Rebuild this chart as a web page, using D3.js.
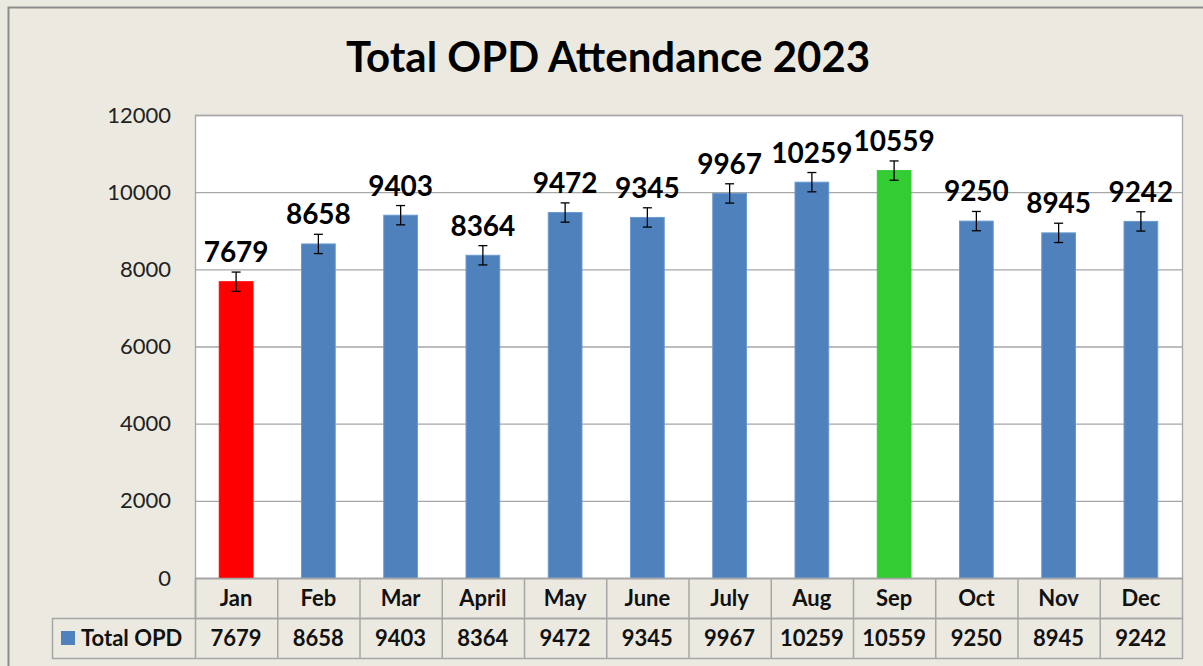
<!DOCTYPE html>
<html><head><meta charset="utf-8">
<script src="https://cdn.jsdelivr.net/npm/d3@7"></script>
<style>body{margin:0;background:#ECEAE0;}svg{display:block;}</style>
</head><body>
<svg id="c" width="1203" height="666"></svg>
<script>
const months = ["Jan","Feb","Mar","April","May","June","July","Aug","Sep","Oct","Nov","Dec"];
const values = [7679,8658,9403,8364,9472,9345,9967,10259,10559,9250,8945,9242];
const errorMargin = [250,250,250,250,250,250,250,250,250,250,250,250];
const barColors = ["#FF0000","#4F81BD","#4F81BD","#4F81BD","#4F81BD","#4F81BD","#4F81BD","#4F81BD","#33CC33","#4F81BD","#4F81BD","#4F81BD"];
const yTicks = [0,2000,4000,6000,8000,10000,12000];
const seriesName = "Total OPD";
const title = "Total OPD Attendance 2023";

const svg = d3.select("#c");
const F = "Lato, 'Open Sans', sans-serif";
const L = 195, R = 1182, T = 115, B = 578;
const grid = "#A6A6A6";

svg.append("rect").attr("x",0).attr("y",0).attr("width",1203).attr("height",666).attr("fill","#ECEAE0");
svg.append("rect").attr("x",8.5).attr("y",7.5).attr("width",1300).attr("height",800)
  .attr("fill","none").attr("stroke","#8C8C8C").attr("stroke-width",2);

svg.append("text").attr("x",608).attr("y",72).attr("text-anchor","middle")
  .attr("font-family",F).attr("font-weight","bold").attr("font-size",42).attr("fill","#000").text(title);

const x = d3.scaleBand().domain(months).range([L,R]).paddingInner(0.59).paddingOuter(0.295);
const xc = d3.scaleBand().domain(months).range([L,R]);
const y = d3.scaleLinear().domain([0,12000]).range([B,T]);

svg.append("rect").attr("x",L).attr("y",T).attr("width",R-L).attr("height",B-T).attr("fill","#fff");

svg.append("g").selectAll("line").data(yTicks).join("line")
  .attr("x1",L).attr("x2",R).attr("y1",d=>y(d)+0.5).attr("y2",d=>y(d)+0.5)
  .attr("stroke",grid).attr("stroke-width",1.3);

const yAxis = svg.append("g").attr("transform",`translate(${L},0)`)
  .call(d3.axisLeft(y).tickValues(yTicks).tickSize(0).tickPadding(24).tickFormat(d3.format("d")));
yAxis.select(".domain").remove();
yAxis.selectAll("text").attr("font-family",F).attr("font-size",22).attr("fill","#222");

svg.append("rect").attr("x",L+0.5).attr("y",T+0.5).attr("width",R-L).attr("height",B-T)
  .attr("fill","none").attr("stroke",grid).attr("stroke-width",1.3);

const idx = d3.range(months.length);
svg.append("g").selectAll("rect").data(idx).join("rect")
  .attr("x",i=>x(months[i])).attr("width",x.bandwidth())
  .attr("y",i=>y(values[i])).attr("height",i=>B-y(values[i]))
  .attr("fill",i=>barColors[i])
  .attr("stroke",i=>barColors[i]==="#4F81BD"?"#6A9AD0":barColors[i]).attr("stroke-width",1);

const eb = svg.append("g").attr("stroke","#000").attr("stroke-width",1.3);
idx.forEach(i=>{
  const cx = xc(months[i])+xc.bandwidth()/2;
  const y1 = y(values[i]+errorMargin[i]), y2 = y(values[i]-errorMargin[i]);
  eb.append("line").attr("x1",cx).attr("x2",cx).attr("y1",y1).attr("y2",y2);
  eb.append("line").attr("x1",cx-4.5).attr("x2",cx+4.5).attr("y1",y1).attr("y2",y1);
  eb.append("line").attr("x1",cx-4.5).attr("x2",cx+4.5).attr("y1",y2).attr("y2",y2);
});

svg.append("g").selectAll("text").data(idx).join("text")
  .attr("x",i=>xc(months[i])+xc.bandwidth()/2)
  .attr("y",i=>y(values[i]+errorMargin[i])-10)
  .attr("text-anchor","middle").attr("font-family",F).attr("font-weight","bold")
  .attr("font-size",28).attr("fill","#000").text(i=>values[i]);

// data table
const r1 = 578, r2 = 618, r3 = 658, tl = 52;
const tg = svg.append("g");
tg.append("rect").attr("x",L+0.5).attr("y",r1+0.5).attr("width",R-L).attr("height",r2-r1)
  .attr("fill","none").attr("stroke",grid).attr("stroke-width",1.5);
tg.append("rect").attr("x",tl+0.5).attr("y",r2+0.5).attr("width",R-tl).attr("height",r3-r2)
  .attr("fill","none").attr("stroke",grid).attr("stroke-width",1.5);
tg.selectAll("line.v").data(months).join("line").attr("class","v")
  .attr("x1",d=>xc(d)+0.5).attr("x2",d=>xc(d)+0.5).attr("y1",r1).attr("y2",r3)
  .attr("stroke",grid).attr("stroke-width",1.5);
tg.selectAll("text.m").data(months).join("text").attr("class","m")
  .attr("x",d=>xc(d)+xc.bandwidth()/2).attr("y",(r1+r2)/2+8)
  .attr("text-anchor","middle").attr("font-family",F).attr("font-weight","bold").attr("font-size",22)
  .attr("fill","#111").text(d=>d);
tg.selectAll("text.v").data(idx).join("text").attr("class","v")
  .attr("x",i=>xc(months[i])+xc.bandwidth()/2).attr("y",(r2+r3)/2+8)
  .attr("text-anchor","middle").attr("font-family",F).attr("font-weight","bold").attr("font-size",22)
  .attr("fill","#111").text(i=>values[i]);
tg.append("rect").attr("x",61).attr("y",(r2+r3)/2-7).attr("width",14).attr("height",14).attr("fill","#4F81BD");
tg.append("text").attr("x",81).attr("y",(r2+r3)/2+8).attr("font-family",F).attr("font-weight","bold")
  .attr("font-size",22).attr("fill","#111").text(seriesName);
</script>
</body></html>
